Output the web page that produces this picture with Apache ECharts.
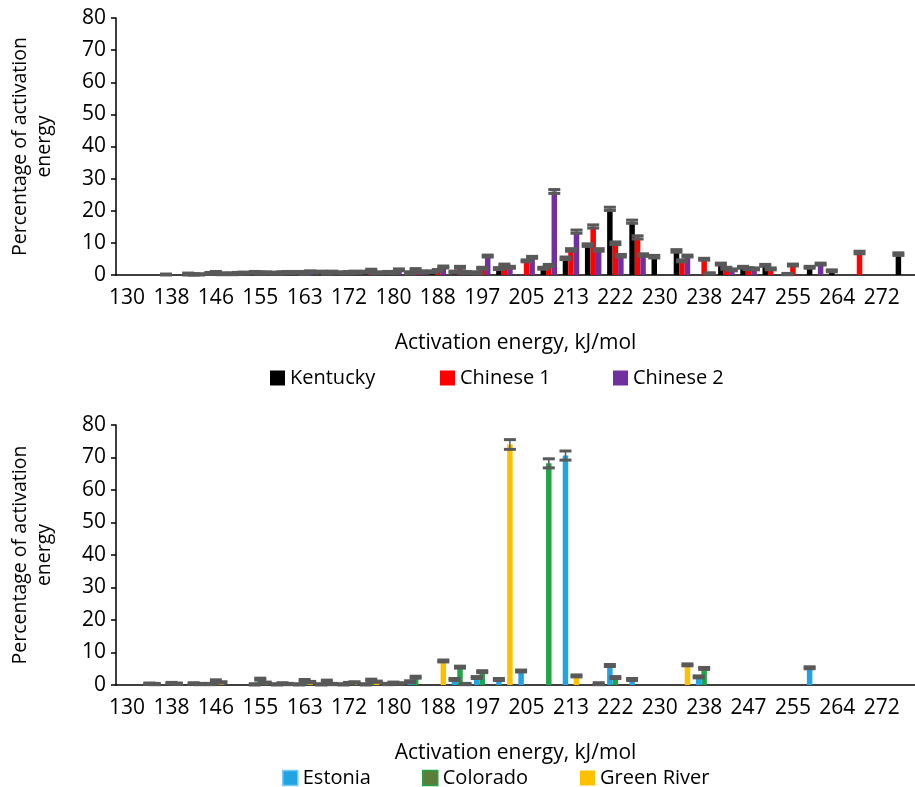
<!DOCTYPE html>
<html><head><meta charset="utf-8">
<script src="https://cdn.jsdelivr.net/npm/echarts@6/dist/echarts.min.js"></script>
<style>html,body{margin:0;padding:0;background:#fff}#c{width:915px;height:787px}</style>
</head><body><div id="c"></div>
<script>
const categories = ['130','134','138','142','146','151','155','159','163','168','172','176','180','184','188','193','197','201','205','209','213','218','222','226','230','234','238','243','247','251','255','260','264','268','272','276'];
const yTicks = [0,10,20,30,40,50,60,70,80];

const kentucky  = [0,0,0.1,0.3,0.5,0.4,0.8,0.6,0.8,0.9,0.7,0.9,0.8,0.7,1.0,0.9,0.7,2.0,0,2.1,5.2,9.3,20.6,16.6,5.7,7.5,0,3.4,2.4,3.0,0.3,2.4,1.3,0,0,6.5];
const chinese1  = [0,0,0,0.2,0.8,0.5,0.6,0.7,0.5,0.6,0.8,1.5,0.8,1.7,1.4,2.4,2.1,3.1,4.4,3.0,7.8,15.1,9.9,11.7,0,4.4,4.9,2.1,2.0,1.9,3.1,0,0,7.0,0,0];
const chinese2  = [0,0,0,0.2,0.4,0.6,0.7,0.8,1.0,0.9,0.9,0.7,1.6,1.0,2.5,0.8,5.9,2.4,5.5,26.0,13.5,7.8,6.0,6.2,0,5.9,0.5,1.6,1.9,0,0,3.4,0,0,0,0];
const kentuckyErr = [0,0,0.2,0.3,0.3,0.3,0.3,0.3,0.3,0.3,0.3,0.3,0.3,0.3,0.3,0.3,0.3,0.3,0,0.3,0.4,0.4,0.5,0.5,0.4,0.4,0,0.3,0.3,0.3,0.2,0.3,0.3,0,0,0.4];
const chinese1Err = [0,0,0,0.2,0.3,0.3,0.3,0.3,0.3,0.3,0.3,0.3,0.3,0.3,0.3,0.3,0.3,0.3,0.3,0.3,0.4,0.5,0.4,0.5,0,0.3,0.3,0.3,0.3,0.3,0.3,0,0,0.4,0,0];
const chinese2Err = [0,0,0,0.2,0.3,0.3,0.3,0.3,0.3,0.3,0.3,0.3,0.3,0.3,0.3,0.3,0.3,0.3,0.3,0.6,0.5,0.4,0.4,0.4,0,0.3,0.2,0.3,0.3,0,0,0.3,0,0,0,0];

const estonia    = [0,0,0,0,0.3,0,0.2,0.2,0.2,0.2,0.2,0.2,0.3,1.0,0,1.7,2.3,1.7,4.3,0,70.6,0,6.0,1.7,0,0,2.5,0,0,0,0,5.3,0,0,0,0];
const colorado   = [0,0.4,0.6,0.5,1.3,0,1.8,0.5,1.4,1.2,0.6,1.5,0.7,2.4,0,5.5,4.1,0,0,68.2,0,0,2.3,0,0,0,5.1,0,0,0,0,0,0,0,0,0];
const greenRiver = [0,0.3,0.4,0.3,0.8,0,0.7,0.3,0.9,0.3,0.8,1.0,0.5,0,7.4,0.3,0,74.0,0,0,2.8,0.4,0,0,0,6.2,0,0,0,0,0,0,0,0,0,0];
const estoniaErr    = [0,0,0,0,0.2,0,0.2,0.2,0.2,0.2,0.2,0.2,0.2,0.3,0,0.3,0.3,0.3,0.3,0,1.4,0,0.3,0.3,0,0,0.3,0,0,0,0,0.3,0,0,0,0];
const coloradoErr   = [0,0.2,0.2,0.2,0.3,0,0.3,0.2,0.3,0.3,0.2,0.3,0.2,0.3,0,0.3,0.3,0,0,1.4,0,0,0.3,0,0,0,0.3,0,0,0,0,0,0,0,0,0];
const greenRiverErr = [0,0.2,0.2,0.2,0.2,0,0.2,0.2,0.2,0.2,0.2,0.2,0.2,0,0.3,0.2,0,1.5,0,0,0.3,0.3,0,0,0,0.3,0,0,0,0,0,0,0,0,0,0];

const FONT = 'Open Sans';
const BW = 5.5;

function errData(vals, errs, k){
  const out = [];
  vals.forEach((v,i)=>{ if(v>0) out.push([i, v, errs[i], k]); });
  return out;
}
function errSeries(idx, data){
  return {
    type:'custom', xAxisIndex:idx, yAxisIndex:idx, z:10, silent:true,
    encode:{x:0,y:1}, data:data,
    renderItem:function(params, api){
      const x=api.value(0), v=api.value(1), e=api.value(2), k=api.value(3);
      const c=api.coord([x,v]);
      const cx=c[0]+(k-1)*BW;
      const top=api.coord([x,v+e])[1], bot=api.coord([x,Math.max(0,v-e)])[1];
      const st={stroke:'#595959', lineWidth:1.5};
      const cs={stroke:'#595959', lineWidth:3};
      return {type:'group', children:[
        {type:'line', shape:{x1:cx,y1:top,x2:cx,y2:bot}, style:st},
        {type:'line', shape:{x1:cx-6,y1:top,x2:cx+6,y2:top}, style:cs},
        {type:'line', shape:{x1:cx-6,y1:bot,x2:cx+6,y2:bot}, style:cs}
      ]};
    }
  };
}
function barSeries(name, idx, data, color){
  return {name:name, type:'bar', xAxisIndex:idx, yAxisIndex:idx, data:data, barWidth:BW, barGap:'0%',
    itemStyle:{color:color}, animation:false};
}
function xAxisDef(idx){
  return {type:'category', gridIndex:idx, data:categories, boundaryGap:true,
    name:'Activation energy, kJ/mol', nameLocation:'middle', nameGap:58,
    nameTextStyle:{fontFamily:FONT, fontSize:21, color:'#000'},
    axisLine:{lineStyle:{color:'#000', width:1.5}},
    axisTick:{interval:0, length:7, lineStyle:{color:'#000', width:1.5}},
    axisLabel:{interval:1, fontFamily:FONT, fontSize:21, color:'#000', margin:13},
    splitLine:{show:false}};
}
function yAxisDef(idx){
  return {type:'value', gridIndex:idx, min:0, max:80, interval:10,
    name:'Percentage of activation\nenergy', nameLocation:'middle', nameGap:60, nameRotate:90,
    nameTextStyle:{fontFamily:FONT, fontSize:19.5, color:'#000', lineHeight:24},
    axisLine:{show:true, lineStyle:{color:'#000', width:1.5}},
    axisTick:{show:true, length:5, lineStyle:{color:'#000', width:1.5}},
    axisLabel:{fontFamily:FONT, fontSize:21, color:'#000', margin:10, formatter:v=>yTicks.includes(v)?String(v):''},
    splitLine:{show:false}};
}
function leg(name, left, top, icon){
  return {data:[icon?{name:name, itemStyle:icon}:name], left:left, top:top, icon:'rect', itemWidth:15, itemHeight:15, itemGap:5,
    textStyle:{fontFamily:FONT, fontSize:20, color:'#000'}, selectedMode:false};
}

const chart = echarts.init(document.getElementById('c'));
chart.setOption({
  animation:false,
  backgroundColor:'#fff',
  grid:[
    {left:116, right:-1, top:18, height:257},
    {left:116, right:-1, top:425, height:260}
  ],
  xAxis:[xAxisDef(0), xAxisDef(1)],
  yAxis:[yAxisDef(0), yAxisDef(1)],
  legend:[
    leg('Kentucky',265,363),
    leg('Chinese 1',435,363),
    leg('Chinese 2',608,363),
    leg('Estonia',277,763,{color:'#22a4e4', borderColor:'#7ccaf2', borderWidth:1.5}),
    leg('Colorado',417,763,{color:'#5b7f3a', borderColor:'#21a548', borderWidth:1.5}),
    leg('Green River',575,763)
  ],
  series:[
    barSeries('Kentucky',0,kentucky,'#000000'),
    barSeries('Chinese 1',0,chinese1,'#ff0000'),
    barSeries('Chinese 2',0,chinese2,'#7030a0'),
    barSeries('Estonia',1,estonia,'#22a4e4'),
    barSeries('Colorado',1,colorado,'#21a548'),
    barSeries('Green River',1,greenRiver,'#ffc000'),
    errSeries(0, errData(kentucky,kentuckyErr,0).concat(errData(chinese1,chinese1Err,1),errData(chinese2,chinese2Err,2))),
    errSeries(1, errData(estonia,estoniaErr,0).concat(errData(colorado,coloradoErr,1),errData(greenRiver,greenRiverErr,2)))
  ]
});
</script></body></html>
